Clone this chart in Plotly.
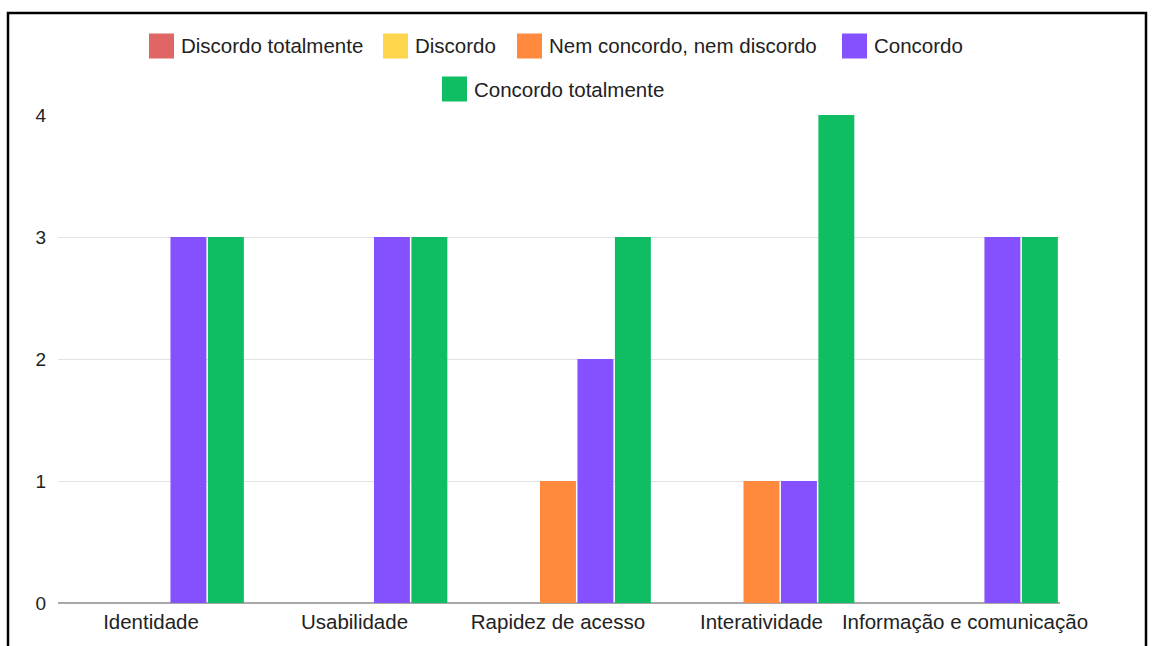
import plotly.graph_objects as go

categories = ["Identidade", "Usabilidade", "Rapidez de acesso", "Interatividade", "Informação e comunicação"]
series_names = ["Discordo totalmente", "Discordo", "Nem concordo, nem discordo", "Concordo", "Concordo totalmente"]
discordo_totalmente = [0, 0, 0, 0, 0]
discordo = [0, 0, 0, 0, 0]
nem_concordo = [0, 0, 1, 1, 0]
concordo = [3, 3, 2, 1, 3]
concordo_totalmente = [3, 3, 3, 4, 3]
y_ticks = [0, 1, 2, 3, 4]

values = [discordo_totalmente, discordo, nem_concordo, concordo, concordo_totalmente]
colors = ["#e06666", "#fdd64d", "#ff8a3d", "#8551ff", "#0fbd63"]

W, H = 1153, 646
L, R, T, B = 58, 1060, 115, 603  # plot area in pixels

def px(x):
    return (x - L) / (R - L)

def py(y):
    return (B - y) / (B - T)

fig = go.Figure()
for name, vals, col in zip(series_names, values, colors):
    fig.add_trace(go.Bar(x=categories, y=vals, name=name, marker_color=col,
                         marker_line_width=0, showlegend=False))

font = dict(family="Liberation Sans, Arial, sans-serif", size=20.5, color="#222222")
yfont = dict(family="Liberation Sans, Arial, sans-serif", size=19, color="#222222")

fig.update_layout(
    width=W, height=H,
    margin=dict(l=L, r=W - R, t=T, b=H - B),
    paper_bgcolor="white", plot_bgcolor="white",
    barmode="group", bargap=0.08, bargroupgap=0.04,
    font=font,
    xaxis=dict(range=[-0.457, 4.467], showgrid=False, ticks="", showline=False,
               tickfont=font, ticklabelstandoff=4, fixedrange=True),
    yaxis=dict(range=[0, 4], tickvals=y_ticks, showgrid=True, gridcolor="#e3e3e3",
               gridwidth=1, zeroline=True, zerolinecolor="#a8a8a8", zerolinewidth=1.5,
               ticks="", tickfont=yfont, ticklabelstandoff=11, fixedrange=True),
)

# manual legend (two centered rows)
legend_pos = [(149, 46), (383, 46), (517, 46), (842, 46), (442, 89)]
sq = 25
for (x0, yc), name, col in zip(legend_pos, series_names, colors):
    fig.add_shape(type="rect", xref="paper", yref="paper",
                  x0=px(x0), x1=px(x0 + sq), y0=py(yc + sq / 2), y1=py(yc - sq / 2),
                  fillcolor=col, line_width=0)
    fig.add_annotation(xref="paper", yref="paper", x=px(x0 + sq + 5), y=py(yc),
                       text=name, showarrow=False, xanchor="left", yanchor="middle",
                       font=font)

# outer black border
fig.add_shape(type="rect", xref="paper", yref="paper",
              x0=px(8), x1=px(1146), y0=py(660), y1=py(13),
              line=dict(color="black", width=2.5), fillcolor="rgba(0,0,0,0)", layer="above")

fig.write_html("out.html")
